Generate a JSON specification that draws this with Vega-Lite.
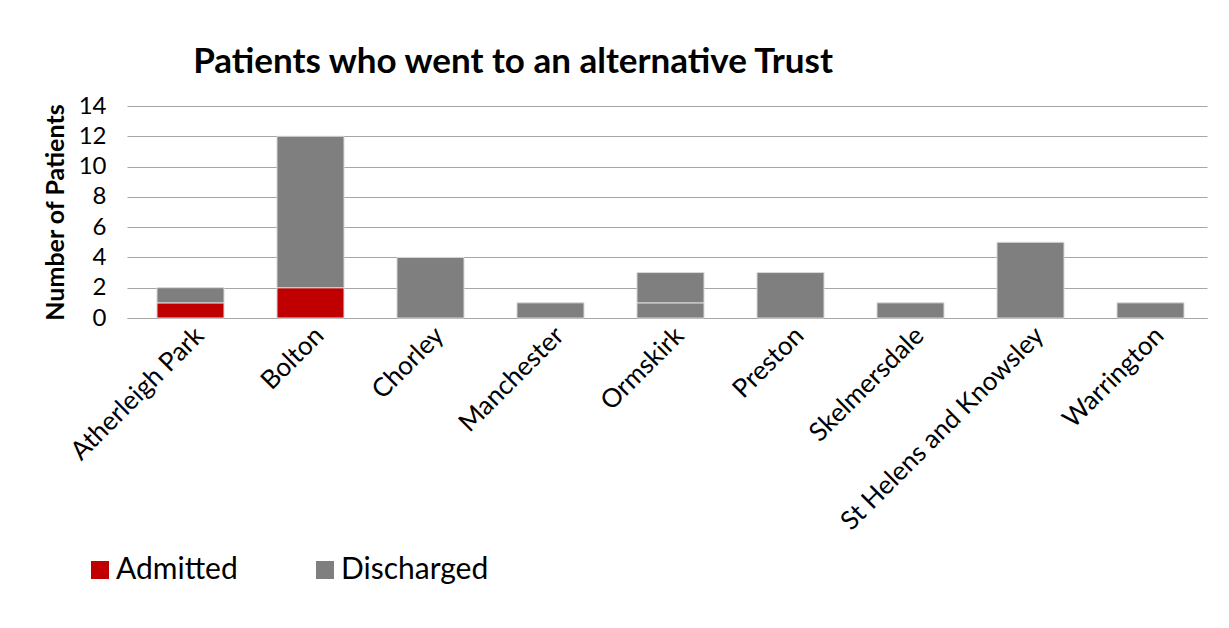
{
  "$schema": "https://vega.github.io/schema/vega-lite/v6.json",
  "width": 1080,
  "height": 212,
  "autosize": {"type": "none"},
  "padding": {"left": 127, "top": 106, "right": 22, "bottom": 310},
  "background": "white",
  "config": {
    "font": "Lato",
    "view": {"stroke": null}
  },
  "title": {
    "text": "Patients who went to an alternative Trust",
    "font": "Lato",
    "fontSize": 35,
    "fontWeight": "bold",
    "color": "#000000",
    "anchor": "start",
    "dx": 150,
    "offset": 14
  },
  "data": {
    "values": [
      {"trust": "Atherleigh Park", "status": "Admitted", "order": 1, "count": 1},
      {"trust": "Atherleigh Park", "status": "Discharged", "order": 2, "count": 1},
      {"trust": "Bolton", "status": "Admitted", "order": 1, "count": 2},
      {"trust": "Bolton", "status": "Discharged", "order": 2, "count": 10},
      {"trust": "Chorley", "status": "Discharged", "order": 2, "count": 4},
      {"trust": "Manchester", "status": "Discharged", "order": 2, "count": 1},
      {"trust": "Ormskirk", "status": "Discharged", "order": 2, "count": 1},
      {"trust": "Ormskirk", "status": "Discharged", "order": 3, "count": 2},
      {"trust": "Preston", "status": "Discharged", "order": 2, "count": 3},
      {"trust": "Skelmersdale", "status": "Discharged", "order": 2, "count": 1},
      {"trust": "St Helens and Knowsley", "status": "Discharged", "order": 2, "count": 5},
      {"trust": "Warrington", "status": "Discharged", "order": 2, "count": 1}
    ]
  },
  "mark": {"type": "bar", "stroke": "#d9d9d9", "strokeWidth": 1},
  "encoding": {
    "x": {
      "field": "trust",
      "type": "nominal",
      "sort": null,
      "scale": {"paddingInner": 0.4417, "paddingOuter": 0.2208, "align": 0.566},
      "axis": {
        "title": null,
        "labelAngle": -45,
        "labelAlign": "right",
        "labelBaseline": "top",
        "labelFontSize": 26,
        "labelColor": "#000000",
        "labelPadding": 4,
        "labelLimit": 0,
        "ticks": false,
        "domainColor": "#a6a6a6",
        "domainWidth": 1
      }
    },
    "y": {
      "field": "count",
      "type": "quantitative",
      "stack": "zero",
      "scale": {"domain": [0, 14]},
      "axis": {
        "title": "Number of Patients",
        "titleFontSize": 25,
        "titleFontWeight": "bold",
        "titleColor": "#000000",
        "titlePadding": 10,
        "values": [0, 2, 4, 6, 8, 10, 12, 14],
        "labelFontSize": 24,
        "labelColor": "#000000",
        "labelPadding": 21,
        "ticks": false,
        "domain": false,
        "grid": true,
        "gridColor": "#a6a6a6",
        "gridWidth": 1
      }
    },
    "order": {"field": "order"},
    "color": {
      "field": "status",
      "type": "nominal",
      "scale": {"domain": ["Admitted", "Discharged"], "range": ["#c00000", "#7f7f7f"]},
      "legend": {
        "title": null,
        "orient": "none",
        "legendX": -42,
        "legendY": 449,
        "direction": "horizontal",
        "symbolType": "square",
        "symbolSize": 324,
        "symbolStrokeWidth": 0,
        "labelFontSize": 30,
        "labelColor": "#000000",
        "labelOffset": 1,
        "columnPadding": 72
      }
    }
  }
}
